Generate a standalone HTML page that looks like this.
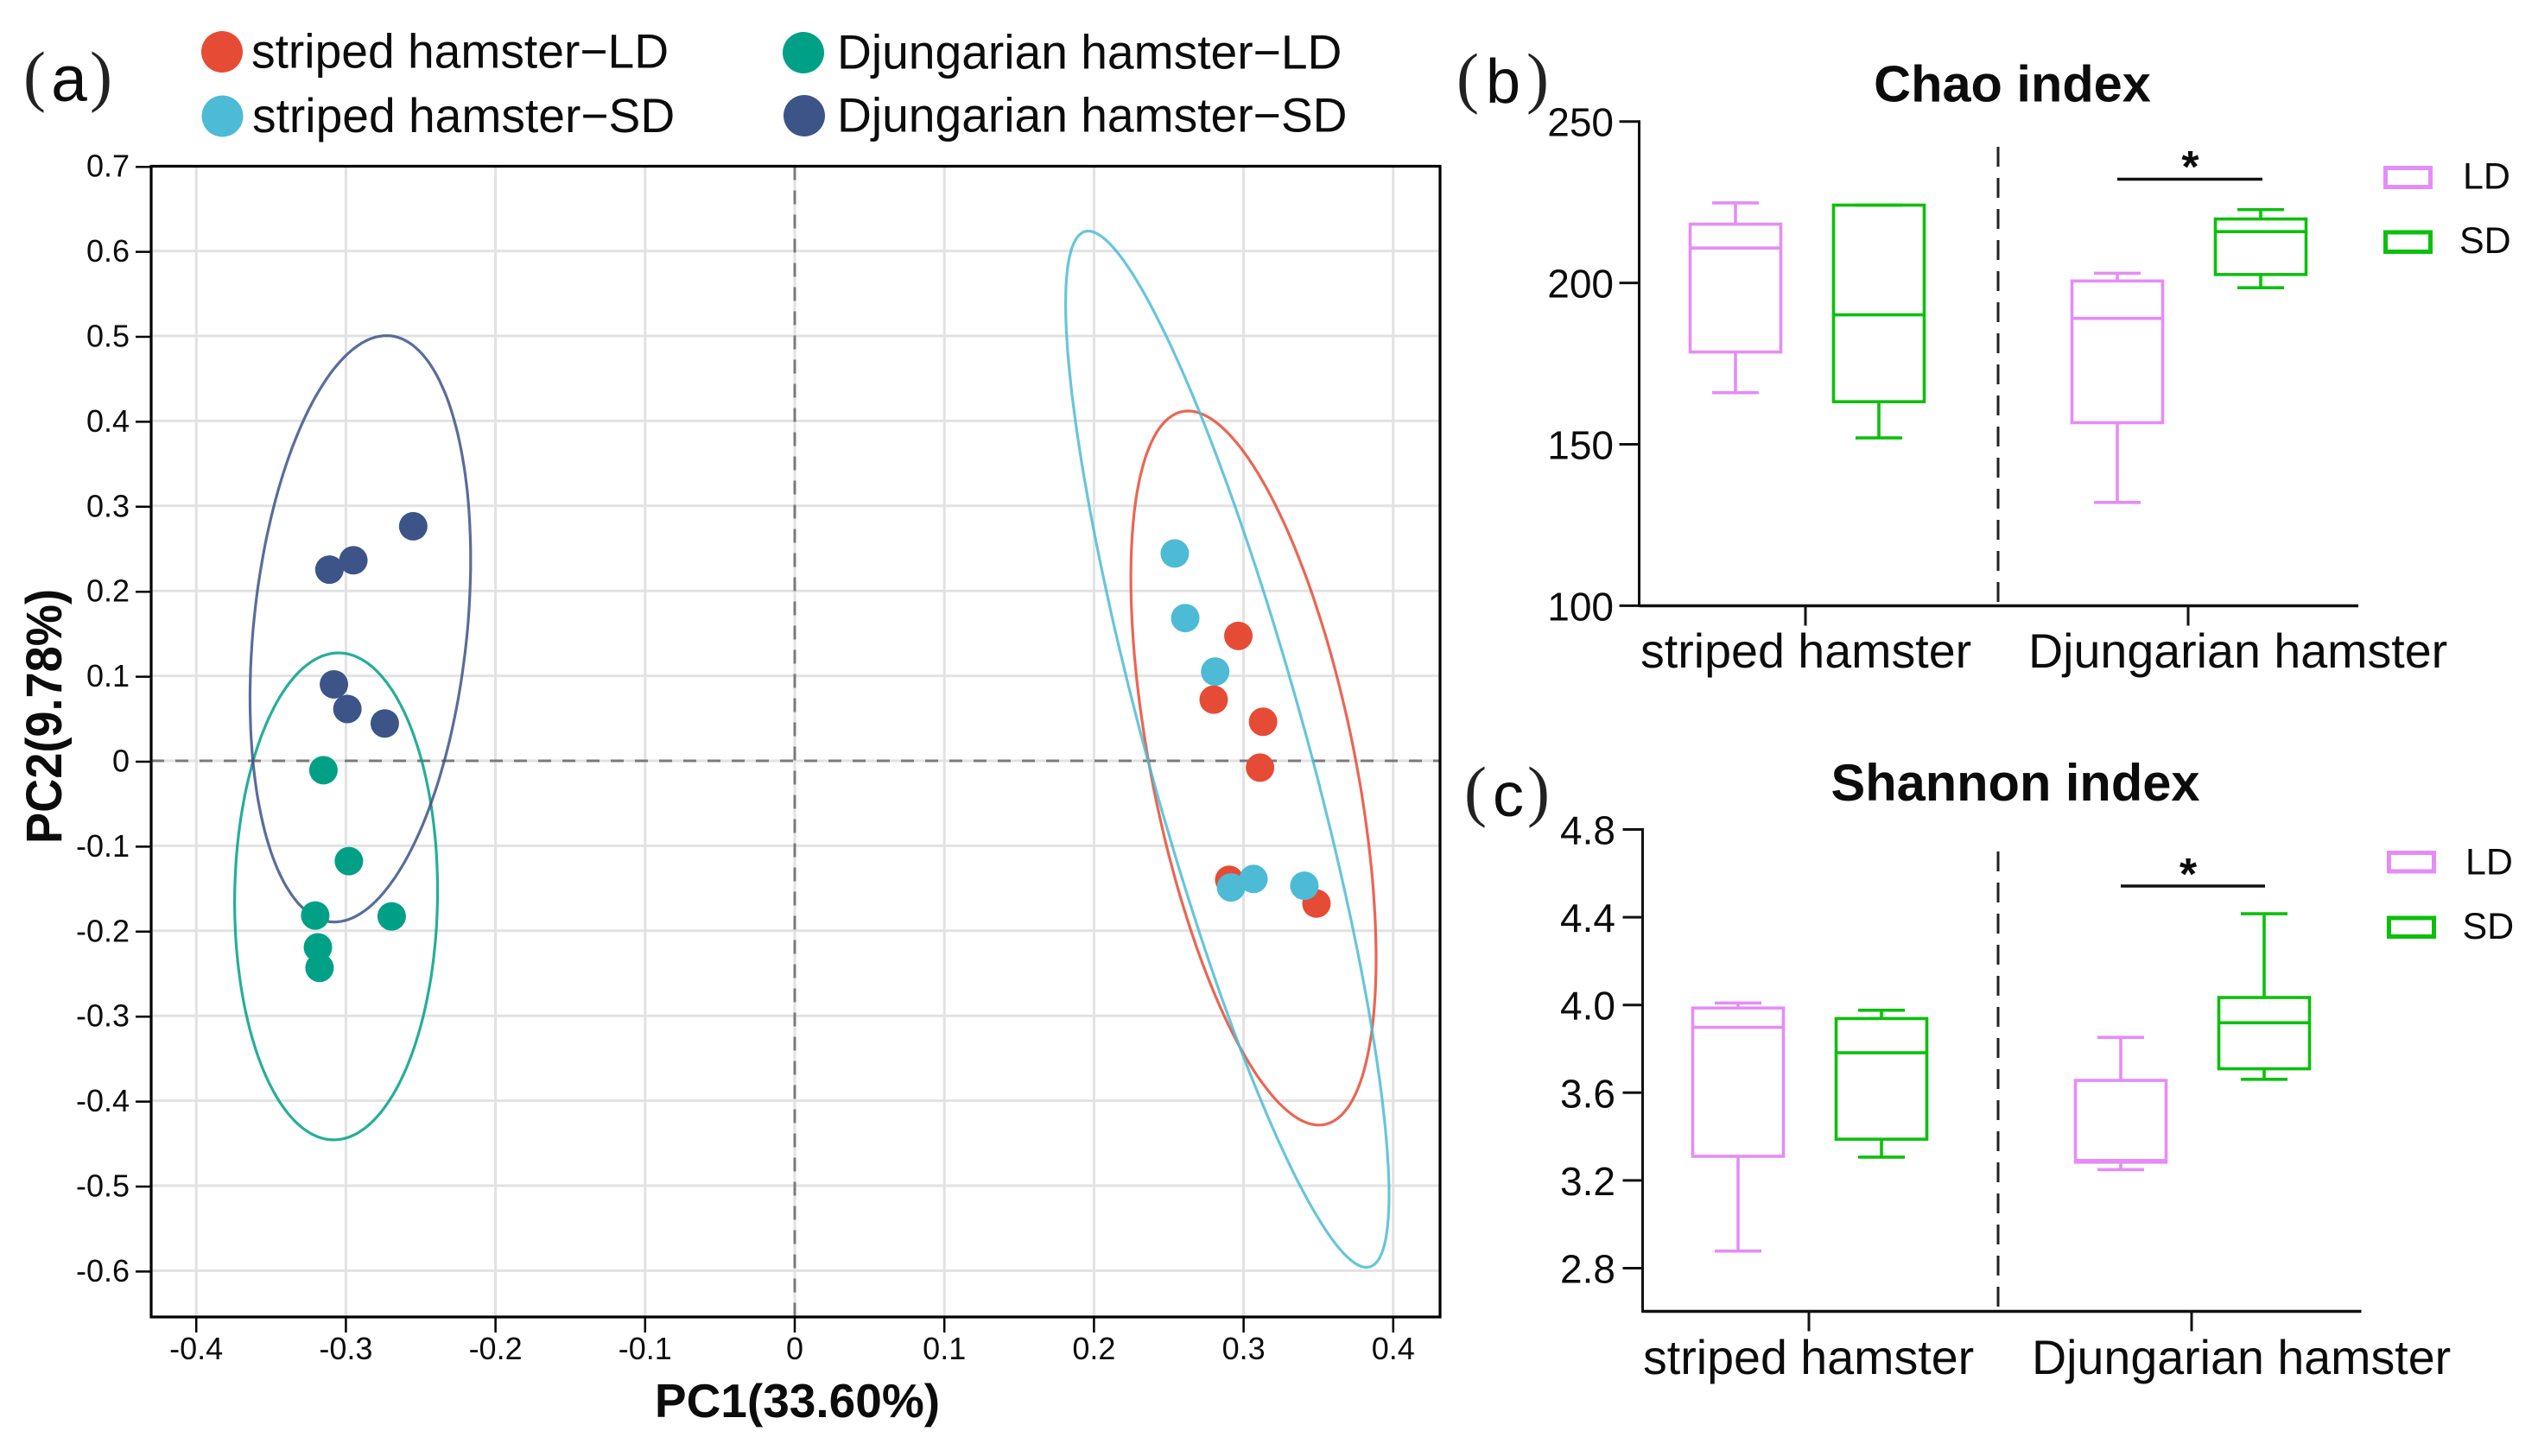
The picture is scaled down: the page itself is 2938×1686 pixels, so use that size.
<!DOCTYPE html>
<html lang="en">
<head>
<meta charset="utf-8">
<title>Hamster PCoA and alpha diversity</title>
<style>
html,body{margin:0;padding:0;background:#fff;}
svg{display:block;font-family:"Liberation Sans",Arial,sans-serif;}
text{fill:#0c0c0c;}
.serif{font-family:"Liberation Serif","Times New Roman",serif;fill:#222;}
</style>
</head>
<body>
<svg id="figure" xmlns="http://www.w3.org/2000/svg" width="2938" height="1686" viewBox="0 0 2938 1686">
  <rect x="0" y="0" width="2938" height="1686" fill="#fff"/>

  <g>
    <text class="serif" x="40" y="114" font-size="78" text-anchor="middle">(</text>
    <text x="80" y="117" font-size="75" text-anchor="middle">a</text>
    <text class="serif" x="117" y="114" font-size="78" text-anchor="middle">)</text>
  </g>
  <g>
    <text class="serif" x="1699" y="116" font-size="78" text-anchor="middle">(</text>
    <text x="1740" y="119" font-size="72" text-anchor="middle">b</text>
    <text class="serif" x="1780" y="116" font-size="78" text-anchor="middle">)</text>
  </g>
  <g>
    <text class="serif" x="1708" y="942" font-size="78" text-anchor="middle">(</text>
    <text x="1746" y="945" font-size="72" text-anchor="middle">c</text>
    <text class="serif" x="1781" y="942" font-size="78" text-anchor="middle">)</text>
  </g>

  <g>
    <g>
      <circle cx="257" cy="60" r="24" fill="#E64B35"/>
      <text x="291" y="78.5" font-size="55.2">striped hamster−LD</text>
    </g>
    <g>
      <circle cx="257.5" cy="134.5" r="24" fill="#4DBBD5"/>
      <text x="292" y="153" font-size="55.2">striped hamster−SD</text>
    </g>
    <g>
      <circle cx="930" cy="61" r="24" fill="#00A087"/>
      <text x="969" y="79.5" font-size="55.2">Djungarian hamster−LD</text>
    </g>
    <g>
      <circle cx="931" cy="134" r="24" fill="#3C5488"/>
      <text x="969" y="152.5" font-size="55.2">Djungarian hamster−SD</text>
    </g>
  </g>

  <g id="scatter-chart"></g>
  <text x="923" y="1641" font-size="55" font-weight="700" text-anchor="middle">PC1(33.60%)</text>
  <text transform="translate(71 829.5) rotate(-90)" font-size="58" font-weight="700" text-anchor="middle" textLength="295" lengthAdjust="spacingAndGlyphs">PC2(9.78%)</text>

  <text x="2329.5" y="117.5" font-size="59.5" font-weight="700" text-anchor="middle">Chao index</text>
  <g id="chao-chart"></g>
  <g>
    <line x1="2451" x2="2619" y1="207.5" y2="207.5" stroke="#111" stroke-width="3.5"/>
    <text x="2535.5" y="211" font-size="52" font-weight="700" text-anchor="middle">*</text>
  </g>
  <g>
    <g>
      <rect x="2761.5" y="194.5" width="52" height="22" fill="none" stroke="#E58CF7" stroke-width="5"/>
      <text x="2851" y="218.5" font-size="43">LD</text>
    </g>
    <g>
      <rect x="2761.5" y="269" width="52" height="22.5" fill="none" stroke="#0CC00C" stroke-width="5"/>
      <text x="2847" y="293" font-size="43">SD</text>
    </g>
  </g>

  <text x="2333" y="927" font-size="60" font-weight="700" text-anchor="middle" textLength="427" lengthAdjust="spacingAndGlyphs">Shannon index</text>
  <g id="shannon-chart"></g>
  <g>
    <line x1="2455" x2="2622" y1="1026" y2="1026" stroke="#111" stroke-width="3.5"/>
    <text x="2533" y="1030" font-size="52" font-weight="700" text-anchor="middle">*</text>
  </g>
  <g>
    <g>
      <rect x="2765.5" y="987.5" width="52" height="21.5" fill="none" stroke="#E58CF7" stroke-width="5"/>
      <text x="2854" y="1012.5" font-size="43">LD</text>
    </g>
    <g>
      <rect x="2765.5" y="1063" width="52" height="21.5" fill="none" stroke="#0CC00C" stroke-width="5"/>
      <text x="2850.5" y="1087" font-size="43">SD</text>
    </g>
  </g>
</svg>

<script>
// ---------- Panel (a) scatter data ----------
const pc1Ticks = [-0.4, -0.3, -0.2, -0.1, 0, 0.1, 0.2, 0.3, 0.4];
const pc2Ticks = [0.7, 0.6, 0.5, 0.4, 0.3, 0.2, 0.1, 0, -0.1, -0.2, -0.3, -0.4, -0.5, -0.6];
const scatterGroups = ['striped-ld', 'striped-sd', 'djungarian-ld', 'djungarian-sd'];
const stripedLdPc1 = [0.2965, 0.280, 0.313, 0.311, 0.2904, 0.3487];
const stripedLdPc2 = [0.147, 0.072, 0.046, -0.008, -0.140, -0.168];
const stripedSdPc1 = [0.254, 0.261, 0.281, 0.2916, 0.3066, 0.3406];
const stripedSdPc2 = [0.244, 0.168, 0.105, -0.149, -0.139, -0.147];
const djungarianLdPc1 = [-0.315, -0.298, -0.3205, -0.2694, -0.3187, -0.3176];
const djungarianLdPc2 = [-0.011, -0.118, -0.182, -0.183, -0.2195, -0.2436];
const djungarianSdPc1 = [-0.255, -0.295, -0.311, -0.308, -0.299, -0.274];
const djungarianSdPc2 = [0.276, 0.236, 0.225, 0.090, 0.061, 0.044];

// ---------- Panels (b) and (c) box data: striped LD, striped SD, Djungarian LD, Djungarian SD ----------
const hamsterGroups = ['striped hamster', 'Djungarian hamster'];
const boxLabels = ['striped-ld', 'striped-sd', 'djungarian-ld', 'djungarian-sd'];
const chaoTicks = [100, 150, 200, 250];
const chaoLow = [166, 152, 132, 198.5];
const chaoQ1 = [178.6, 163.2, 156.7, 202.6];
const chaoMedian = [210.8, 190.1, 189, 215.9];
const chaoQ3 = [218.2, 224.1, 200.6, 219.8];
const chaoHigh = [224.8, 224.1, 203, 222.7];
const shannonTicks = ['2.8', '3.2', '3.6', '4.0', '4.4', '4.8'];
const shannonLow = [2.878, 3.306, 3.249, 3.661];
const shannonQ1 = [3.31, 3.388, 3.283, 3.709];
const shannonMedian = [3.898, 3.782, 3.291, 3.919];
const shannonQ3 = [3.986, 3.938, 3.656, 4.034];
const shannonHigh = [4.009, 3.976, 3.852, 4.416];

const SVG_NS = 'http://www.w3.org/2000/svg';
function make(parent, tag, attrs, content) {
  const el = document.createElementNS(SVG_NS, tag);
  for (const key in attrs) el.setAttribute(key, attrs[key]);
  if (content !== undefined) el.textContent = content;
  parent.appendChild(el);
  return el;
}

// ---------- Scatter ----------
(function drawScatter() {
  const root = document.getElementById('scatter-chart');
  const left = 175, right = 1667, top = 192.5, bottom = 1525;
  const xScale = v => 920 + 1732 * v;
  const yScale = v => 881 - 984 * v;
  const colors = ['#E64B35', '#4DBBD5', '#00A087', '#3C5488'];
  const seriesX = [stripedLdPc1, stripedSdPc1, djungarianLdPc1, djungarianSdPc1];
  const seriesY = [stripedLdPc2, stripedSdPc2, djungarianLdPc2, djungarianSdPc2];
  const ellipseRadius = 3.40; // sqrt(2*F(0.95;2,n-1)) for n = 6

  pc1Ticks.forEach(t => {
    const grid = make(root, 'line', {x1: xScale(t), x2: xScale(t), y1: top, y2: bottom, stroke: '#e2e2e2', 'stroke-width': 3});
    
    
  });
  pc2Ticks.forEach(t => {
    const grid = make(root, 'line', {x1: left, x2: right, y1: yScale(t), y2: yScale(t), stroke: '#e2e2e2', 'stroke-width': 3});
    
    
  });

  const vZero = make(root, 'line', {x1: xScale(0), x2: xScale(0), y1: top, y2: bottom, stroke: '#7a7a7a', 'stroke-width': 3, 'stroke-dasharray': '16 12'});
  
  
  const hZero = make(root, 'line', {x1: left, x2: right, y1: yScale(0), y2: yScale(0), stroke: '#7a7a7a', 'stroke-width': 3, 'stroke-dasharray': '15 13'});
  
  

  scatterGroups.forEach((name, g) => {
    const xs = seriesX[g], ys = seriesY[g], n = xs.length;
    const mx = xs.reduce((a, b) => a + b, 0) / n;
    const my = ys.reduce((a, b) => a + b, 0) / n;
    let sxx = 0, syy = 0, sxy = 0;
    for (let i = 0; i < n; i++) {
      sxx += (xs[i] - mx) * (xs[i] - mx);
      syy += (ys[i] - my) * (ys[i] - my);
      sxy += (xs[i] - mx) * (ys[i] - my);
    }
    sxx /= n - 1; syy /= n - 1; sxy /= n - 1;
    const l11 = Math.sqrt(sxx), l21 = sxy / l11, l22 = Math.sqrt(Math.max(syy - l21 * l21, 0));
    let d = '';
    for (let k = 0; k <= 180; k++) {
      const a = k / 180 * 2 * Math.PI;
      const ex = mx + ellipseRadius * l11 * Math.cos(a);
      const ey = my + ellipseRadius * (l21 * Math.cos(a) + l22 * Math.sin(a));
      d += (k ? 'L' : 'M') + xScale(ex).toFixed(1) + ' ' + yScale(ey).toFixed(1);
    }
    const ellipse = make(root, 'path', {d: d + 'Z', fill: 'none', stroke: colors[g], 'stroke-width': 3.2, 'stroke-opacity': 0.85});
    
    
  });

  scatterGroups.forEach((name, g) => {
    seriesX[g].forEach((v, i) => {
      const dot = make(root, 'circle', {cx: xScale(v), cy: yScale(seriesY[g][i]), r: 16.5, fill: colors[g]});
      
      
    });
  });

  const frame = make(root, 'rect', {x: left, y: top, width: right - left, height: bottom - top, fill: 'none', stroke: '#000', 'stroke-width': 3.2});
  
  

  pc1Ticks.forEach(t => {
    const tick = make(root, 'line', {x1: xScale(t), x2: xScale(t), y1: bottom, y2: bottom + 18, stroke: '#000', 'stroke-width': 2.5});
    
    
    const label = make(root, 'text', {x: xScale(t), y: 1574, 'font-size': 36, 'text-anchor': 'middle'}, String(t));
    
    
  });
  pc2Ticks.forEach(t => {
    const tick = make(root, 'line', {x1: left - 18, x2: left, y1: yScale(t) + 1, y2: yScale(t) + 1, stroke: '#000', 'stroke-width': 2.5});
    
    
    const label = make(root, 'text', {x: 150, y: yScale(t) + 12.5, 'font-size': 36, 'text-anchor': 'end'}, String(t));
    
    
  });
})();

// ---------- Box panels ----------
function drawBoxPanel(rootId, prefix, opts, ticks, low, q1, median, q3, high) {
  const root = document.getElementById(rootId);
  const yScale = v => opts.yBase - opts.yUnit * (v - opts.vBase);
  const colors = ['#E58CF7', '#0CC00C', '#E58CF7', '#0CC00C'];
  const boxW = 105, capW = 54;
  const boxX = i => opts.firstBox + 166 * (i % 2) + opts.groupStep * Math.floor(i / 2);

  const divider = make(root, 'line', {x1: 2313, x2: 2313, y1: opts.dashTop, y2: opts.axisY, stroke: '#222', 'stroke-width': 3, 'stroke-dasharray': '23 13'});
  
  

  boxLabels.forEach((name, i) => {
    const g = make(root, 'g', {stroke: colors[i], 'stroke-width': 3.6, fill: 'none'});
    
    
    const cx = boxX(i);
    make(g, 'line', {x1: cx, x2: cx, y1: yScale(high[i]), y2: yScale(q3[i])});
    make(g, 'line', {x1: cx, x2: cx, y1: yScale(q1[i]), y2: yScale(low[i])});
    make(g, 'line', {x1: cx - capW / 2, x2: cx + capW / 2, y1: yScale(high[i]), y2: yScale(high[i])});
    make(g, 'line', {x1: cx - capW / 2, x2: cx + capW / 2, y1: yScale(low[i]), y2: yScale(low[i])});
    make(g, 'rect', {x: cx - boxW / 2, y: yScale(q3[i]), width: boxW, height: yScale(q1[i]) - yScale(q3[i])});
    make(g, 'line', {x1: cx - boxW / 2, x2: cx + boxW / 2, y1: yScale(median[i]), y2: yScale(median[i])});
  });

  const yAxis = make(root, 'line', {x1: opts.axisX, x2: opts.axisX, y1: yScale(Number(ticks[ticks.length - 1])) - 1.5, y2: opts.axisY + 1.5, stroke: '#111', 'stroke-width': 3});
  
  
  const xAxis = make(root, 'line', {x1: opts.axisX, x2: opts.axisEnd, y1: opts.axisY, y2: opts.axisY, stroke: '#111', 'stroke-width': 3.4});
  
  

  ticks.forEach(t => {
    const y = yScale(Number(t));
    const tick = make(root, 'line', {x1: opts.axisX - 23, x2: opts.axisX, y1: y, y2: y, stroke: '#111', 'stroke-width': 3});
    
    
    const label = make(root, 'text', {x: opts.labelRight, y: y + 17, 'font-size': 46, 'text-anchor': 'end'}, String(t));
    
    
  });

  hamsterGroups.forEach((name, g) => {
    const tx = opts.firstTick + 443 * g;
    const tick = make(root, 'line', {x1: tx, x2: tx, y1: opts.axisY, y2: opts.axisY + 23, stroke: '#111', 'stroke-width': 3});
    
    
    const label = make(root, 'text', {x: opts.groupLabelX[g], y: opts.groupLabelY, 'font-size': 55.6}, name);
    
    
  });
}

drawBoxPanel('chao-chart', 'chao', {
  yBase: 701.4, yUnit: 3.738, vBase: 100, axisX: 1897.5, axisEnd: 2730, axisY: 701.5,
  dashTop: 170, firstBox: 2009, groupStep: 442, firstTick: 2090, labelRight: 1868,
  groupLabelX: [1899, 2348], groupLabelY: 773
}, chaoTicks, chaoLow, chaoQ1, chaoMedian, chaoQ3, chaoHigh);

drawBoxPanel('shannon-chart', 'shannon', {
  yBase: 1468.5, yUnit: 254, vBase: 2.8, axisX: 1901.5, axisEnd: 2733.5, axisY: 1518.5,
  dashTop: 986, firstBox: 2012, groupStep: 443, firstTick: 2094, labelRight: 1870,
  groupLabelX: [1902, 2352], groupLabelY: 1591
}, shannonTicks, shannonLow, shannonQ1, shannonMedian, shannonQ3, shannonHigh);
</script>
</body>
</html>
